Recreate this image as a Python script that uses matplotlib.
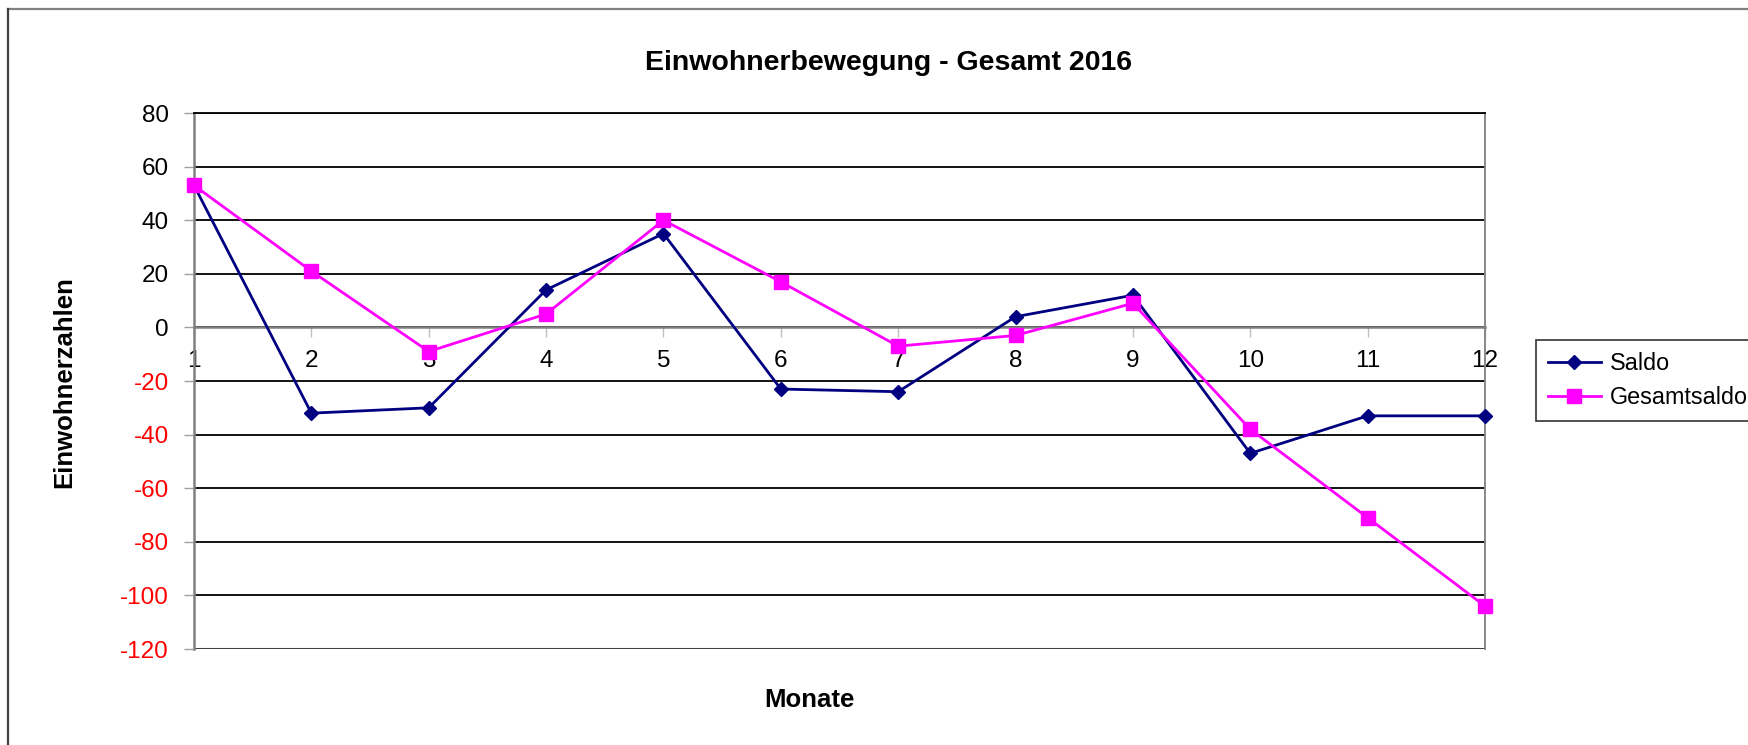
import matplotlib
matplotlib.use('Agg')
import matplotlib.pyplot as plt
from matplotlib.lines import Line2D

plt.rcParams['font.family'] = ['Liberation Sans', 'DejaVu Sans']
plt.rcParams['axes.unicode_minus'] = False

# Daten
monate = [1, 2, 3, 4, 5, 6, 7, 8, 9, 10, 11, 12]
saldo = [53, -32, -30, 14, 35, -23, -24, 4, 12, -47, -33, -33]
gesamtsaldo = [53, 21, -9, 5, 40, 17, -7, -3, 9, -38, -71, -104]
y_ticks = [-120, -100, -80, -60, -40, -20, 0, 20, 40, 60, 80]

W, H = 1749, 745
fig = plt.figure(figsize=(W / 100, H / 100), dpi=100)
ax = fig.add_axes([194 / W, 1 - 649 / H, (1485 - 194) / W, (649 - 113) / H])

ax.plot(monate, saldo, color='#000080', lw=2.0, marker='D', ms=7,
        label='Saldo', zorder=3, clip_on=False)
ax.plot(monate, gesamtsaldo, color='#FF00FF', lw=2.0, marker='s', ms=10,
        label='Gesamtsaldo', zorder=4, clip_on=False)

ax.set_xlim(1, 12)
ax.set_ylim(-120, 80)
ax.set_xticks(monate)
ax.set_yticks(y_ticks)

ax.yaxis.grid(True, color='black', lw=1.3)
ax.set_axisbelow(True)
ax.axhline(-120, color='#404040', lw=2.2, zorder=2)

ax.spines['left'].set_color('#808080')
ax.spines['left'].set_linewidth(1.8)
ax.spines['right'].set_color('#808080')
ax.spines['right'].set_linewidth(1.3)
ax.spines['top'].set_color('black')
ax.spines['top'].set_linewidth(1.3)
ax.spines['bottom'].set_position(('data', 0))
ax.spines['bottom'].set_color('#808080')
ax.spines['bottom'].set_linewidth(1.8)
ax.spines['bottom'].set_zorder(2.5)

ax.tick_params(axis='x', direction='out', length=7.2, width=1, color='#c0c0c0',
               pad=9, labelsize=17.5)
ax.tick_params(axis='y', direction='out', length=7.2, width=1, color='#a0a0a0',
               pad=11, labelsize=17.5)
for lbl, v in zip(ax.get_yticklabels(), y_ticks):
    lbl.set_color('red' if v < 0 else 'black')

leg = ax.legend(loc='upper left', bbox_to_anchor=(1536 / W, 1 - 340 / H),
                bbox_transform=fig.transFigure, fontsize=16.8, frameon=True,
                fancybox=False, edgecolor='black', borderaxespad=0,
                handlelength=2.3, handletextpad=0.35, borderpad=0.5,
                labelspacing=0.5)
leg.get_frame().set_linewidth(1.2)

fig.text(889 / W, 1 - 63 / H, 'Einwohnerbewegung - Gesamt 2016',
         ha='center', va='center', fontsize=20.5, fontweight='bold')
fig.text(64 / W, 1 - 382 / H, 'Einwohnerzahlen', rotation=90,
         ha='center', va='center', fontsize=18.5, fontweight='bold')
fig.text(809 / W, 1 - 700 / H, 'Monate',
         ha='center', va='center', fontsize=18.5, fontweight='bold')

# Rahmen des Diagrammbereichs
fig.add_artist(Line2D([8 / W, 1], [1 - 9 / H, 1 - 9 / H], color='#808080', lw=1.6))
fig.add_artist(Line2D([8 / W, 8 / W], [0, 1 - 9 / H], color='#404040', lw=1.6))

fig.savefig('out.png', dpi=100)
